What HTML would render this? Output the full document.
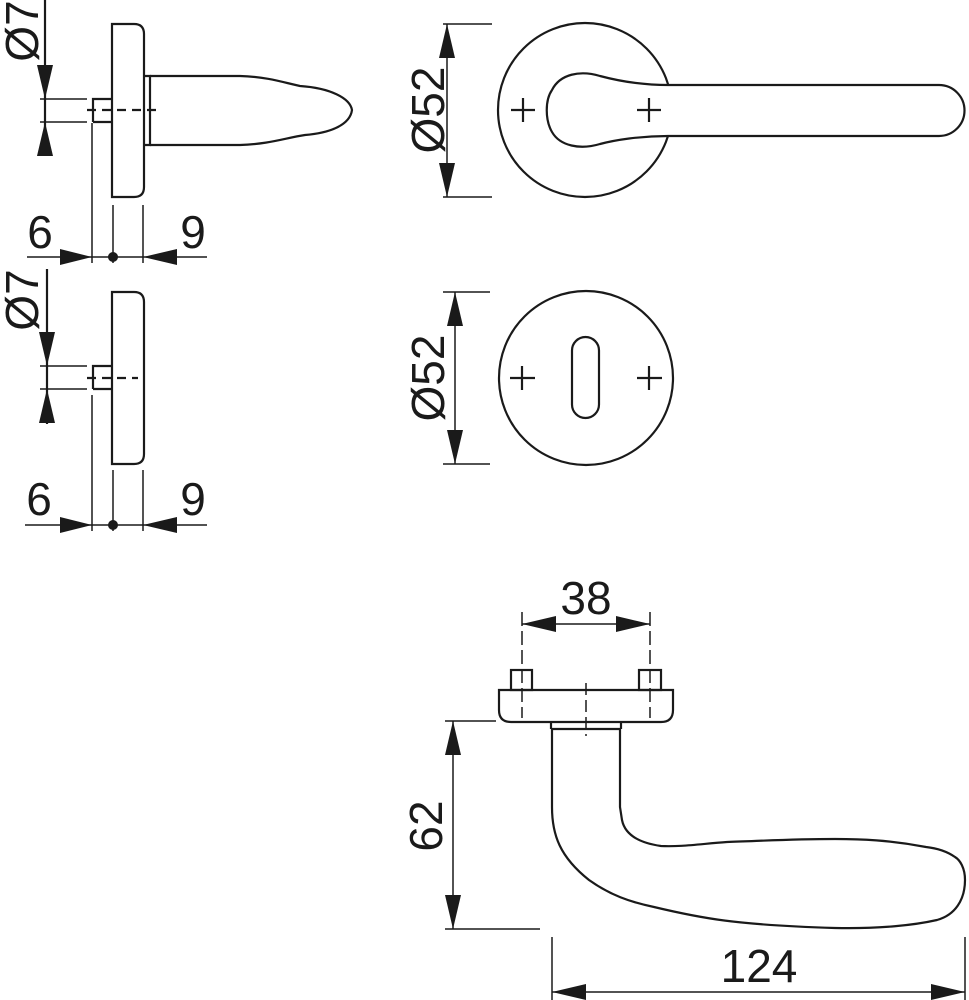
<!DOCTYPE html>
<html><head><meta charset="utf-8"><style>
html,body{margin:0;padding:0;background:#fff;}
svg{display:block;}
text{font-family:"Liberation Sans",sans-serif;fill:#1a1a1a;}
</style></head><body>
<svg width="969" height="1000" viewBox="0 0 969 1000" xmlns="http://www.w3.org/2000/svg">
<g fill="none" stroke="#1a1a1a" stroke-width="2.2">
<!-- ===== Top-left side view ===== -->
<path d="M112 24 L134 24 Q144 24 144 34 L144 187 Q144 197 134 197 L112 197 Z"/>
<path d="M144 76 L150 76 L150 145 L144 145"/>
<path d="M150 76 L240 76 C270 77 285 83 300 86 C330 88 350 98 352 110 C350 125 330 133 305 135 C285 138 270 144 240 145 L150 145"/>
<path d="M93 122 L93 99 L112 99 M93 122 L112 122"/>
<path d="M87 110 L157 110" stroke-dasharray="9,6"/>
<line x1="45" y1="0" x2="45" y2="156"/>
<line x1="40" y1="99" x2="87" y2="99" stroke-width="1.5"/>
<line x1="40" y1="122" x2="87" y2="122" stroke-width="1.5"/>
<line x1="27" y1="257" x2="207" y2="257" stroke-width="1.5"/>
<line x1="92" y1="123" x2="92" y2="263" stroke-width="1.5"/>
<line x1="113" y1="205" x2="113" y2="263" stroke-width="1.5"/>
<line x1="143" y1="205" x2="143" y2="263" stroke-width="1.5"/>

<!-- ===== Second side view ===== -->
<path d="M112 292 L134 292 Q144 292 144 302 L144 454 Q144 464 134 464 L112 464 Z"/>
<path d="M93 389 L93 366 L112 366 M93 389 L112 389"/>
<path d="M87 378 L138 378" stroke-dasharray="9,6"/>
<line x1="47" y1="269" x2="47" y2="424"/>
<line x1="40" y1="366" x2="87" y2="366" stroke-width="1.5"/>
<line x1="40" y1="389" x2="87" y2="389" stroke-width="1.5"/>
<line x1="25" y1="525" x2="207" y2="525" stroke-width="1.5"/>
<line x1="92" y1="395" x2="92" y2="531" stroke-width="1.5"/>
<line x1="113" y1="470" x2="113" y2="531" stroke-width="1.5"/>
<line x1="143" y1="470" x2="143" y2="531" stroke-width="1.5"/>

<!-- ===== Rose with handle ===== -->
<circle cx="585" cy="110" r="87"/>
<path fill="#fff" d="M668 85 C640 85 615 80 600 76 C580 70 560 74 552 90 C545 100 545 120 552 132 C560 146 580 150 600 144 C615 140 640 136 668 136 L939 136 A25.5 25.5 0 0 0 939 85 Z"/>
<path d="M511 110 L535 110 M523 98 L523 122 M637 110 L661 110 M649 98 L649 122"/>
<line x1="447" y1="24" x2="447" y2="197" stroke-width="1.5"/>
<line x1="443" y1="24" x2="492" y2="24" stroke-width="1.5"/>
<line x1="443" y1="197" x2="492" y2="197" stroke-width="1.5"/>

<!-- ===== Escutcheon ===== -->
<circle cx="586" cy="378" r="87"/>
<rect x="572" y="337" width="27" height="81" rx="13.5"/>
<path d="M510 378 L535 378 M522 366 L522 390 M637 378 L662 378 M649 366 L649 390"/>
<line x1="455" y1="292" x2="455" y2="464" stroke-width="1.5"/>
<line x1="443" y1="292" x2="490" y2="292" stroke-width="1.5"/>
<line x1="443" y1="464" x2="490" y2="464" stroke-width="1.5"/>

<!-- ===== Bottom lever ===== -->
<path d="M499 690 L673 690 L673 710 Q673 722 661 722 L511 722 Q499 722 499 710 Z"/>
<rect x="511" y="670" width="21" height="20"/>
<rect x="639" y="670" width="22" height="20"/>
<path d="M551 729 L551 722 M621 722 L621 729 M551 729 L621 729"/>
<path d="M552 729 L552 807 C552 835 560 857 589 880 C610 895 630 902 654 907 C700 918 735 925 835 928 C880 929 915 925 937 920 C955 915 965 900 965 880 C965 868 960 860 955 857 C945 850 935 848 926 847 C890 840 860 839 835 839 C790 839 760 841 727 842 C700 844 680 847 661 846 C640 843 625 835 622 820 L620 807 L620 729"/>
<line x1="522" y1="612" x2="522" y2="718" stroke-dasharray="14,5" stroke-width="1.5"/>
<line x1="650" y1="612" x2="650" y2="718" stroke-dasharray="14,5" stroke-width="1.5"/>
<line x1="586" y1="683" x2="586" y2="736" stroke-dasharray="12,5" stroke-width="1.5"/>
<line x1="522" y1="624" x2="650" y2="624" stroke-width="1.5"/>
<line x1="453" y1="721" x2="453" y2="929" stroke-width="1.5"/>
<line x1="445" y1="721" x2="496" y2="721" stroke-width="1.5"/>
<line x1="445" y1="929" x2="540" y2="929" stroke-width="1.5"/>
<line x1="552" y1="992" x2="965" y2="992" stroke-width="1.5"/>
<line x1="552" y1="937" x2="552" y2="1000" stroke-width="1.5"/>
<line x1="965" y1="937" x2="965" y2="1000" stroke-width="1.5"/>
</g>

<!-- arrowheads -->
<g fill="#1a1a1a" stroke="none">
<polygon points="45,99 37,65 53,65"/>
<polygon points="45,122 37,156 53,156"/>
<polygon points="92,257 60,249 60,265"/>
<polygon points="143,257 177,249 177,265"/>
<circle cx="113" cy="257" r="5"/>
<polygon points="47,366 39,332 55,332"/>
<polygon points="47,389 39,423 55,423"/>
<polygon points="92,525 60,517 60,533"/>
<polygon points="143,525 177,517 177,533"/>
<circle cx="113" cy="525" r="5"/>
<polygon points="447,24 439,58 455,58"/>
<polygon points="447,197 439,163 455,163"/>
<polygon points="455,292 447,326 463,326"/>
<polygon points="455,464 447,430 463,430"/>
<polygon points="522,624 556,616 556,632"/>
<polygon points="650,624 616,616 616,632"/>
<polygon points="453,721 445,755 461,755"/>
<polygon points="453,929 445,895 461,895"/>
<polygon points="552,992 586,984 586,1000"/>
<polygon points="965,992 931,984 931,1000"/>
</g>

<!-- text -->
<g font-size="46">
<text transform="translate(38,31) rotate(-90)" text-anchor="middle">Ø7</text>
<text x="40" y="248" text-anchor="middle">6</text>
<text x="193" y="248" text-anchor="middle">9</text>
<text transform="translate(38,300) rotate(-90)" text-anchor="middle">Ø7</text>
<text x="39" y="515" text-anchor="middle">6</text>
<text x="193" y="515" text-anchor="middle">9</text>
<text transform="translate(444,110) rotate(-90)" text-anchor="middle">Ø52</text>
<text transform="translate(444,378) rotate(-90)" text-anchor="middle">Ø52</text>
<text x="586" y="614" text-anchor="middle">38</text>
<text transform="translate(442,826) rotate(-90)" text-anchor="middle">62</text>
<text x="759" y="982" text-anchor="middle">124</text>
</g>
</svg>
</body></html>
